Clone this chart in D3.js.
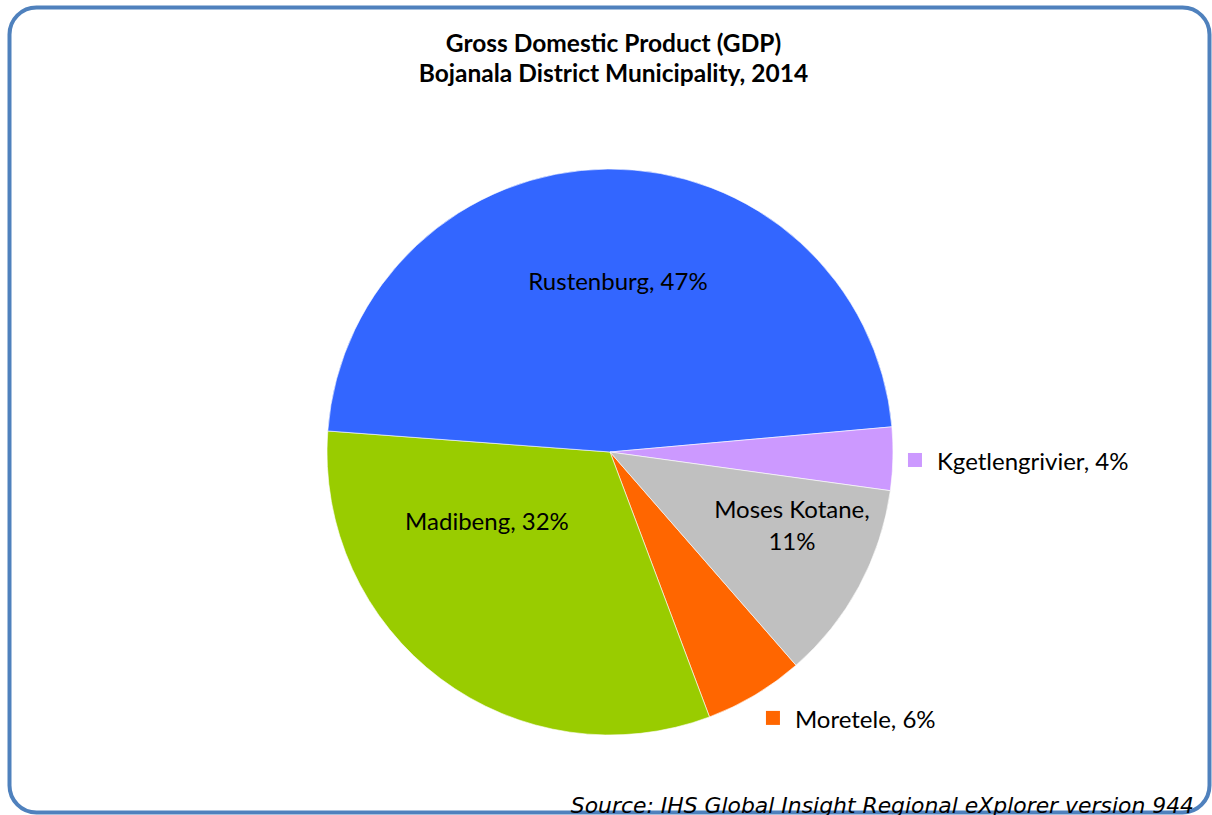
<!DOCTYPE html>
<html>
<head>
<meta charset="utf-8">
<script src="https://cdn.jsdelivr.net/npm/d3@7"></script>
<style>
  html, body { margin: 0; padding: 0; background: #fff; }
  svg { display: block; }
</style>
</head>
<body>
<div id="chart"></div>
<script>
// GDP share by local municipality, Bojanala District, 2014 (percent)
const municipalities = ["Moretele", "Madibeng", "Rustenburg", "Kgetlengrivier", "Moses Kotane"];
const gdpShare = [5.7, 31.9, 47.4, 3.6, 11.4];
const sliceColors = ["#FF6600", "#99CC00", "#3366FF", "#CC99FF", "#C0C0C0"];
const titleLines = ["Gross Domestic Product (GDP)", "Bojanala District Municipality, 2014"];
const sourceNote = "Source: IHS Global Insight Regional eXplorer version 944";

const W = 1212, H = 815;
const cx = 610, cy = 452, R = 283;
const startDeg = 138.9;

// label placement: inside labels by angle (deg, clockwise from top) and radius fraction;
// small slices get an outside swatch label
const labelLayout = {
  "Rustenburg":     { type: "inside", angle: 2.7, rf: 0.60, lines: 1 },
  "Madibeng":       { type: "inside", angle: 240.4, rf: 0.50, lines: 1 },
  "Moses Kotane":   { type: "inside", angle: 112.1, rf: 0.694, lines: 2 },
  "Kgetlengrivier": { type: "outside", angle: 91.5, rf: 1.078 },
  "Moretele":       { type: "outside", angle: 148.5, rf: 1.102 }
};

const svg = d3.select("#chart").append("svg")
  .attr("width", W).attr("height", H);

// rounded frame
svg.append("rect")
  .attr("x", 9.5).attr("y", 7.5)
  .attr("width", 1200).attr("height", 805)
  .attr("rx", 27).attr("ry", 27)
  .attr("fill", "#fff")
  .attr("stroke", "#4F81BD")
  .attr("stroke-width", 4);

// title
const title = svg.append("text")
  .attr("text-anchor", "middle")
  .attr("font-family", "Lato, 'Open Sans', sans-serif")
  .attr("font-weight", "bold")
  .attr("font-size", 24.5)
  .attr("fill", "#000");
titleLines.forEach((t, i) => {
  title.append("tspan").attr("x", 613.5).attr("y", 52 + i * 30).text(t);
});

const data = municipalities.map((m, i) => ({ name: m, value: gdpShare[i], color: sliceColors[i] }));

const pie = d3.pie()
  .value(d => d.value)
  .sort(null)
  .startAngle(startDeg * Math.PI / 180)
  .endAngle(startDeg * Math.PI / 180 + 2 * Math.PI);

const arc = d3.arc().innerRadius(0).outerRadius(R);

const g = svg.append("g").attr("transform", `translate(${cx},${cy})`);

g.selectAll("path.slice")
  .data(pie(data))
  .join("path")
  .attr("class", "slice")
  .attr("d", arc)
  .attr("fill", d => d.data.color)
  .attr("stroke", "#fff")
  .attr("stroke-width", 0.6);

const fmt = v => Math.round(v) + "%";
const polar = (deg, r) => {
  const a = deg * Math.PI / 180;
  return [Math.sin(a) * r, -Math.cos(a) * r];
};

const labelFont = "Lato, 'Open Sans', sans-serif";
const fs = 24;

pie(data).forEach(d => {
  const L = labelLayout[d.data.name];
  const [x, y] = polar(L.angle, L.rf * R);
  if (L.type === "inside") {
    const t = g.append("text")
      .attr("text-anchor", "middle")
      .attr("font-family", labelFont)
      .attr("font-size", fs)
      .attr("fill", "#000");
    if (L.lines === 2) {
      t.append("tspan").attr("x", x).attr("y", y - 8).text(d.data.name + ",");
      t.append("tspan").attr("x", x).attr("y", y + 24).text(fmt(d.data.value));
    } else {
      t.append("tspan").attr("x", x).attr("y", y + 8).text(d.data.name + ", " + fmt(d.data.value));
    }
  } else {
    g.append("rect")
      .attr("x", x - 7).attr("y", y - 7)
      .attr("width", 14).attr("height", 14)
      .attr("fill", d.data.color);
    g.append("text")
      .attr("x", x + 22).attr("y", y + 10)
      .attr("font-family", labelFont)
      .attr("font-size", fs)
      .attr("fill", "#000")
      .text(d.data.name + ", " + fmt(d.data.value));
  }
});

// source note, sits on the bottom edge of the frame
svg.append("text")
  .attr("x", 1194).attr("y", 813)
  .attr("text-anchor", "end")
  .attr("font-family", "'DejaVu Sans', Verdana, sans-serif")
  .attr("font-style", "italic")
  .attr("font-size", 21.9)
  .attr("fill", "#000")
  .text(sourceNote);
</script>
</body>
</html>
